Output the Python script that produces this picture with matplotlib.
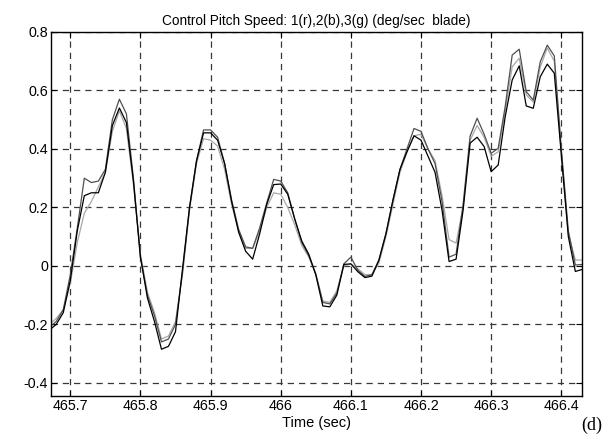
import matplotlib
matplotlib.use("Agg")
import matplotlib.pyplot as plt

# sample times (sec)
time_s = [465.67, 465.68, 465.69, 465.70, 465.71, 465.72, 465.73, 465.74, 465.75, 465.76,
          465.77, 465.78, 465.79, 465.80, 465.81, 465.82, 465.83, 465.84, 465.85, 465.86,
          465.87, 465.88, 465.89, 465.90, 465.91, 465.92, 465.93, 465.94, 465.95, 465.96,
          465.97, 465.98, 465.99, 466.00, 466.01, 466.02, 466.03, 466.04, 466.05, 466.06,
          466.07, 466.08, 466.09, 466.10, 466.11, 466.12, 466.13, 466.14, 466.15, 466.16,
          466.17, 466.18, 466.19, 466.20, 466.21, 466.22, 466.23, 466.24, 466.25, 466.26,
          466.27, 466.28, 466.29, 466.30, 466.31, 466.32, 466.33, 466.34, 466.35, 466.36,
          466.37, 466.38, 466.39, 466.40, 466.41, 466.42, 466.43]

# blade 1
blade1 = [-0.21, -0.19, -0.15, -0.03, 0.13, 0.30, 0.285, 0.29, 0.33, 0.50,
          0.57, 0.52, 0.30, 0.03, -0.10, -0.17, -0.26, -0.25, -0.20, -0.02,
          0.20, 0.36, 0.465, 0.465, 0.44, 0.35, 0.225, 0.125, 0.065, 0.06,
          0.13, 0.215, 0.296, 0.29, 0.25, 0.16, 0.08, 0.035, -0.03, -0.125,
          -0.13, -0.093, 0.007, 0.03, -0.015, -0.036, -0.03, 0.02, 0.11, 0.225,
          0.33, 0.40, 0.47, 0.46, 0.40, 0.35, 0.22, 0.03, 0.04, 0.21,
          0.444, 0.505, 0.45, 0.385, 0.402, 0.545, 0.721, 0.741, 0.596, 0.567,
          0.698, 0.755, 0.718, 0.40, 0.12, 0.003, 0.005]

# blade 2
blade2 = [-0.20, -0.18, -0.15, -0.06, 0.08, 0.18, 0.22, 0.27, 0.32, 0.46,
          0.53, 0.47, 0.28, 0.04, -0.09, -0.16, -0.25, -0.24, -0.19, -0.03,
          0.19, 0.35, 0.435, 0.43, 0.41, 0.33, 0.21, 0.12, 0.06, 0.06,
          0.12, 0.20, 0.25, 0.245, 0.20, 0.14, 0.07, 0.03, -0.025, -0.12,
          -0.125, -0.085, 0.0, 0.007, -0.01, -0.03, -0.03, 0.01, 0.10, 0.21,
          0.32, 0.39, 0.445, 0.45, 0.40, 0.36, 0.24, 0.09, 0.078, 0.20,
          0.43, 0.48, 0.44, 0.375, 0.39, 0.53, 0.681, 0.71, 0.585, 0.56,
          0.68, 0.745, 0.70, 0.39, 0.11, 0.02, 0.02]

# blade 3
blade3 = [-0.22, -0.20, -0.16, -0.05, 0.12, 0.24, 0.25, 0.25, 0.32, 0.48,
          0.54, 0.49, 0.29, 0.03, -0.11, -0.19, -0.285, -0.275, -0.225, -0.01,
          0.20, 0.36, 0.455, 0.455, 0.43, 0.35, 0.22, 0.115, 0.05, 0.023,
          0.11, 0.21, 0.278, 0.28, 0.245, 0.16, 0.085, 0.04, -0.03, -0.137,
          -0.14, -0.10, 0.005, 0.007, -0.02, -0.04, -0.035, 0.02, 0.11, 0.225,
          0.33, 0.39, 0.445, 0.43, 0.375, 0.32, 0.19, 0.015, 0.023, 0.19,
          0.42, 0.44, 0.408, 0.322, 0.345, 0.51, 0.636, 0.684, 0.547, 0.539,
          0.647, 0.69, 0.659, 0.38, 0.10, -0.019, -0.012]

x_ticks = [465.7, 465.8, 465.9, 466.0, 466.1, 466.2, 466.3, 466.4]
x_labels = ["465.7", "465.8", "465.9", "466", "466.1", "466.2", "466.3", "466.4"]
y_ticks = [-0.4, -0.2, 0, 0.2, 0.4, 0.6, 0.8]
y_labels = ["-0.4", "-0.2", "0", "0.2", "0.4", "0.6", "0.8"]

plt.rcParams["font.family"] = ["Liberation Sans", "DejaVu Sans"]

fig = plt.figure(figsize=(6.1, 4.36), dpi=100)
ax = fig.add_axes([0.0836, 0.0917, 0.8705, 0.835])

ax.plot(time_s, blade2, color="#a8a8a8", lw=0.9)
ax.plot(time_s, blade1, color="#505050", lw=0.9)
ax.plot(time_s, blade3, color="#000000", lw=0.9)

ax.set_xlim(465.6725, 466.4295)
ax.set_ylim(-0.445, 0.8)
ax.set_xticks(x_ticks)
ax.set_xticklabels(x_labels)
ax.set_yticks(y_ticks)
ax.set_yticklabels(y_labels)

ax.grid(True, color="#383838", linestyle=(0, (5, 4)), linewidth=0.9)
ax.tick_params(direction="in", length=4, top=True, right=True, labelsize=10.3, pad=2)
for sp in ax.spines.values():
    sp.set_linewidth(1.0)
    sp.set_color("black")

ax.set_title("Control Pitch Speed: 1(r),2(b),3(g) (deg/sec  blade)", fontsize=9.8, pad=5)
ax.set_xlabel("Time (sec)", fontsize=10.5, labelpad=2)

fig.text(0.953, 0.004, "(d)", fontsize=13, family="Liberation Serif",
         ha="left", va="bottom")

fig.savefig("out.png", dpi=100)
